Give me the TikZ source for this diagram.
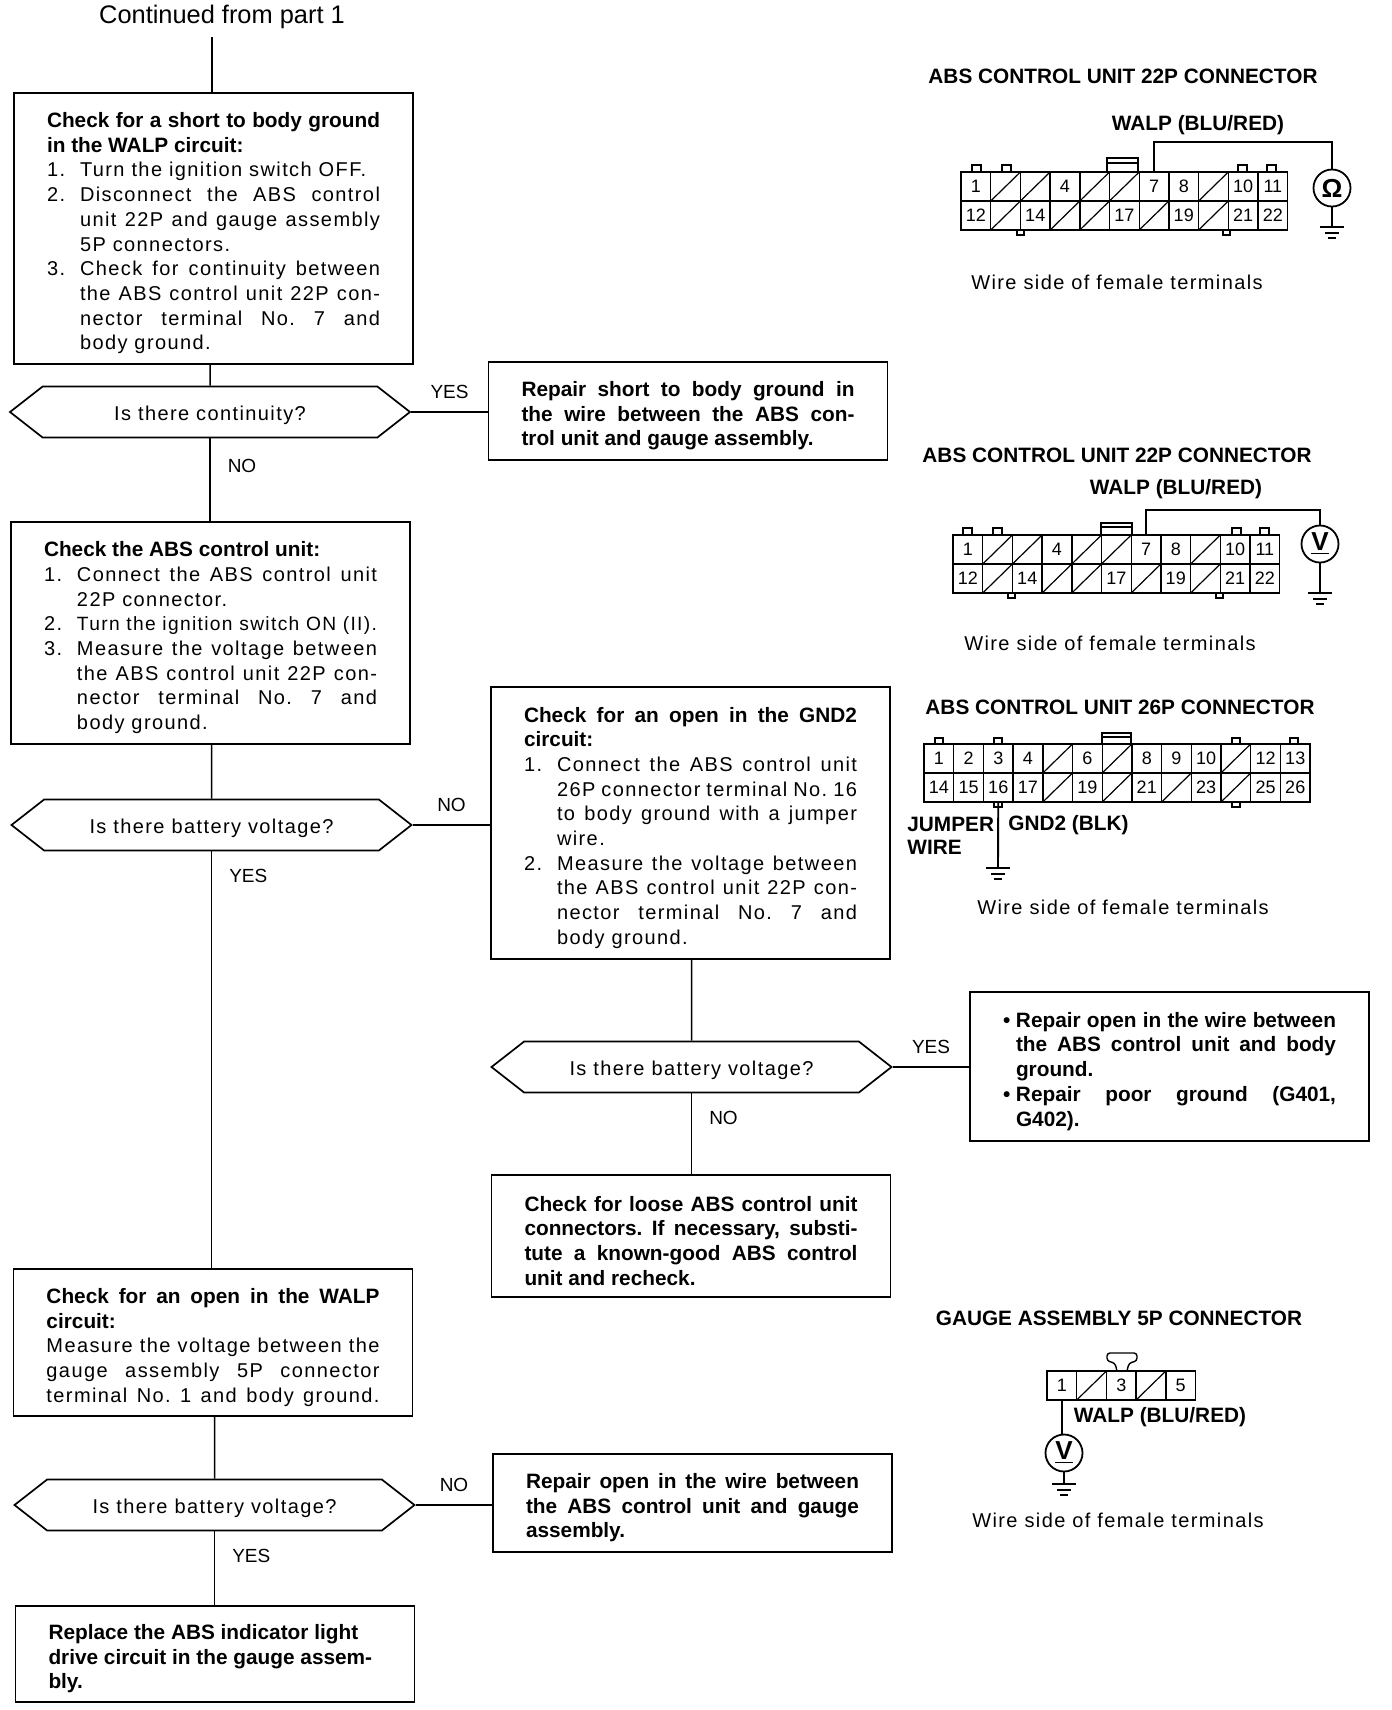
\documentclass[tikz,border=0pt]{standalone}
\usepackage{fontspec}
\setmainfont{Liberation Sans}[LetterSpace=7,BoldFeatures={LetterSpace=0}]
\newfontfamily\plainfont{Liberation Sans}
\usetikzlibrary{shapes.symbols}
\frenchspacing

\newcommand{\bodyfont}{\fontsize{10}{12.35}\selectfont}
\newcommand{\headfont}{\fontsize{10.4}{12.35}\selectfont\bfseries}
% justified line, and numbered line with hanging number
\newcommand{\fitline}[1]{\makebox[166.5pt][s]{#1}}
\newcommand{\fitstep}[3][16.5pt]{\makebox[#1][l]{#2}\makebox[\dimexpr166.5pt-#1][s]{#3}}
\newcommand{\stepline}[3][16.5pt]{\makebox[#1][l]{#2}#3}
% one row of connector cells: prefix, x, y, labelled cells, slashed cells
\newcommand{\pinrow}[5]{%
  \foreach \c/\t in {#4} \node[pincell] (#1\t) at ({#2+(\c+.5)*29.7},{#3+14.5}) {\t};
  \foreach \c in {#5} \node[pincell,slashed] (#1s\c) at ({#2+(\c+.5)*29.7},{#3+14.5}) {};
}
\newcommand{\groundbars}[1]{\draw[groundbar] (#1) +(-12,0) -- +(12,0) +(-7,6) -- +(7,6) +(-4,11) -- +(4,11);}

\tikzset{
  flowbox/.style={draw,line width=.85pt,text width=166.5pt,inner xsep=16.5pt,inner ysep=0pt,align=flush left,
    font=\bodyfont,execute at begin node={\rule{0pt}{12.3pt}}},
  repairbox/.style={flowbox,font=\headfont},
  hexbox/.style={draw,line width=.85pt,shape=signal,signal to=west and east,signal pointer angle=76,
    minimum width=200pt,minimum height=25.5pt,inner sep=0pt,text height=10.2pt,text depth=2pt,font=\bodyfont},
  flowline/.style={line width=.75pt},
  flowlabel/.style={inner sep=0pt,font=\plainfont\fontsize{9.5}{12}\selectfont},
  sidehead/.style={inner sep=0pt,font=\headfont},
  sidenote/.style={inner sep=0pt,font=\bodyfont},
  pincell/.style={draw,line width=.7pt,minimum width=14.85pt,minimum height=14.5pt,inner sep=0pt,font=\plainfont\fontsize{9}{10}\selectfont},
  slashed/.style={path picture={\draw[line width=.6pt] (path picture bounding box.south west) -- (path picture bounding box.north east);}},
  pintab/.style={draw,line width=.7pt},
  wire/.style={line width=.95pt},
  meter/.style={circle,draw,line width=.9pt,minimum size=18.5pt,inner sep=0pt,font=\plainfont\fontsize{13}{14}\selectfont\bfseries},
  groundbar/.style={line width=.9pt}
}

\begin{document}
\begin{tikzpicture}[x=0.5pt,y=-0.5pt]
\useasboundingbox (0,0) rectangle (1392,1710);

% flow chart
\node[inner sep=0pt,font=\plainfont\fontsize{12.7}{14}\selectfont] (cont) at (222,17) {Continued from part 1};
\coordinate (start) at (212,37);

\node[flowbox,minimum height=135.5pt] (shortbox) at (213.5,228.5) {%
\fitline{\headfont Check for a short to body ground}\\
{\headfont in the WALP circuit:}\\
\stepline{1.}{Turn the ignition switch OFF.}\\
\fitstep{2.}{Disconnect the ABS control}\\
\fitstep{}{unit 22P and gauge assembly}\\
\stepline{}{5P connectors.}\\
\fitstep{3.}{Check for continuity between}\\
\fitstep{}{the ABS control unit 22P con-}\\
\fitstep{}{nector terminal No. 7 and}\\
\stepline{}{body ground.}};

\node[hexbox] (contdia) at (210,412) {Is there continuity?};

\node[repairbox,minimum height=49pt] (shortfix) at (688,411) {%
\fitline{Repair short to body ground in}\\
\fitline{the wire between the ABS con-}\\
trol unit and gauge assembly.};

\node[flowbox,minimum height=111pt] (unitbox) at (210.5,633) {%
{\headfont Check the ABS control unit:}\\
\fitstep{1.}{Connect the ABS control unit}\\
\stepline{}{22P connector.}\\
\fitstep{2.}{\fontsize{9.6}{12.35}\selectfont Turn the ignition switch ON (II).}\\
\fitstep{3.}{Measure the voltage between}\\
\fitstep{}{the ABS control unit 22P con-}\\
\fitstep{}{nector terminal No. 7 and}\\
\stepline{}{body ground.}};

\node[hexbox] (voltdia) at (211.5,825) {Is there battery voltage?};

\node[flowbox,minimum height=136pt] (gndbox) at (690.5,823) {%
\fitline{\headfont Check for an open in the GND2}\\
{\headfont circuit:}\\
\fitstep{1.}{Connect the ABS control unit}\\
\fitstep{}{26P connector terminal No. 16}\\
\fitstep{}{to body ground with a jumper}\\
\stepline{}{wire.}\\
\fitstep{2.}{Measure the voltage between}\\
\fitstep{}{the ABS control unit 22P con-}\\
\fitstep{}{nector terminal No. 7 and}\\
\stepline{}{body ground.}};

\node[hexbox] (gnddia) at (691.5,1067) {Is there battery voltage?};

\node[repairbox,minimum height=74.5pt] (gndfix) at (1169.5,1066.5) {%
\fitstep[6.5pt]{•}{Repair open in the wire between}\\
\fitstep[6.5pt]{}{the ABS control unit and body}\\
\stepline[6.5pt]{}{ground.}\\
\fitstep[6.5pt]{•}{Repair poor ground (G401,}\\
\stepline[6.5pt]{}{G402).}};

\node[repairbox,minimum height=61pt] (loosebox) at (691,1236) {%
\fitline{Check for loose ABS control unit}\\
\fitline{connectors. If necessary, substi-}\\
\fitline{tute a known-good ABS control}\\
unit and recheck.};

\node[flowbox,minimum height=73.5pt] (walpbox) at (213,1342.5) {%
\fitline{\headfont Check for an open in the WALP}\\
{\headfont circuit:}\\
\fitline{Measure the voltage between the}\\
\fitline{gauge assembly 5P connector}\\
\fitline{terminal No. 1 and body ground.}};

\node[hexbox] (walpdia) at (214.5,1505) {Is there battery voltage?};

\node[repairbox,minimum height=49pt] (walpfix) at (692.5,1503) {%
\fitline{Repair open in the wire between}\\
\fitline{the ABS control unit and gauge}\\
assembly.};

\node[repairbox,minimum height=48pt] (gaugebox) at (215,1654) {%
Replace the ABS indicator light\\
drive circuit in the gauge assem-\\
bly.};

\draw[flowline] (start) -- (start |- shortbox.north);
\draw[flowline] (contdia) -- (contdia |- shortbox.south);
\draw[flowline] (contdia.east) -- node[flowlabel,above=6.5pt] (yesa) {YES} (contdia.east -| shortfix.west);
\draw[flowline] (contdia.south) -- node[flowlabel,pos=.33,right=8.5pt] (noa) {NO} (contdia.south |- unitbox.north);
\draw[flowline] (voltdia) -- (voltdia |- unitbox.south);
\draw[flowline] (voltdia.east) -- node[flowlabel,above=6.5pt] (nob) {NO} (voltdia.east -| gndbox.west);
\draw[flowline] (voltdia.south) -- node[flowlabel,pos=.06,right=8.5pt] (yesb) {YES} (voltdia.south |- walpbox.north);
\draw[flowline] (gnddia) -- (gnddia |- gndbox.south);
\draw[flowline] (gnddia.east) -- node[flowlabel,above=6.5pt] (yesc) {YES} (gnddia.east -| gndfix.west);
\draw[flowline] (gnddia.south) -- node[flowlabel,pos=.3,right=8.5pt] (noc) {NO} (gnddia.south |- loosebox.north);
\draw[flowline] (walpdia) -- (walpdia |- walpbox.south);
\draw[flowline] (walpdia.east) -- node[flowlabel,above=6.5pt] (nod) {NO} (walpdia.east -| walpfix.west);
\draw[flowline] (walpdia.south) -- node[flowlabel,pos=.33,right=8.5pt] (yesd) {YES} (walpdia.south |- gaugebox.north);

% first 22P connector
\node[sidehead] (heada) at (1123,76) {ABS CONTROL UNIT 22P CONNECTOR};
\node[sidehead] (walpa) at (1198,125) {WALP (BLU/RED)};
\foreach \x in {972,1002,1238,1267} \draw[pintab] (\x,172) rectangle ++(9,-7);
\foreach \x in {1017,1223} \draw[pintab] (\x,230) rectangle ++(7,5);
\draw[pintab] (1107,172) rectangle (1138,158) (1107,163) -- (1138,163);
\pinrow{ua}{961}{172}{0/1,3/4,6/7,7/8,9/10,10/11}{1,2,4,5,8}
\pinrow{la}{961}{201}{0/12,2/14,5/17,7/19,9/21,10/22}{1,3,4,6,8}
\node[meter] (ohm) at (1332,188) {Ω};
\coordinate (wirea) at (1332,142);
\coordinate (gnda) at (1332,227);
\draw[wire] (ua7.north) |- (wirea) -- (ohm.north);
\draw[wire] (ohm.south) -- (gnda);
\groundbars{gnda}
\node[sidenote] (wsa) at (1117,282) {Wire side of female terminals};

% second 22P connector
\node[sidehead] (headb) at (1117,455) {ABS CONTROL UNIT 22P CONNECTOR};
\node[sidehead] (walpb) at (1176,489) {WALP (BLU/RED)};
\foreach \x in {963,993,1232,1260} \draw[pintab] (\x,535) rectangle ++(9,-7);
\foreach \x in {1008,1216} \draw[pintab] (\x,593) rectangle ++(7,5);
\draw[pintab] (1101,535) rectangle (1132,523) (1101,527) -- (1132,527);
\pinrow{ub}{953}{535}{0/1,3/4,6/7,7/8,9/10,10/11}{1,2,4,5,8}
\pinrow{lb}{953}{564}{0/12,2/14,5/17,7/19,9/21,10/22}{1,3,4,6,8}
\node[meter] (volta) at (1320,544) {\underline{V}};
\coordinate (wireb) at (1320,510);
\coordinate (gndb) at (1320,593);
\draw[wire] (ub7.north) |- (wireb) -- (volta.north);
\draw[wire] (volta.south) -- (gndb);
\groundbars{gndb}
\node[sidenote] (wsb) at (1110,643) {Wire side of female terminals};

% 26P connector
\node[sidehead] (headc) at (1120,707) {ABS CONTROL UNIT 26P CONNECTOR};
\foreach \x in {935,994,1232,1290} \draw[pintab] (\x,744) rectangle ++(8,-6);
\foreach \x in {994,1232} \draw[pintab] (\x,802) rectangle ++(8,5);
\draw[pintab] (1102,744) rectangle (1131,733) (1102,737) -- (1131,737);
\pinrow{uc}{924}{744}{0/1,1/2,2/3,3/4,5/6,7/8,8/9,9/10,11/12,12/13}{4,6,10}
\pinrow{lc}{924}{773}{0/14,1/15,2/16,3/17,5/19,7/21,9/23,11/25,12/26}{4,6,8,10}
\coordinate (gndc) at (998,868);
\draw[wire] (lc16.south) -- (gndc);
\groundbars{gndc}
\node[sidehead,align=left,anchor=west,font=\fontsize{10.4}{11.6}\selectfont\bfseries] (jumper) at (907,836) {JUMPER\\WIRE};
\node[sidehead,anchor=west] (gndname) at (1008,825) {GND2 (BLK)};
\node[sidenote] (wsc) at (1123,907) {Wire side of female terminals};

% 5P connector
\node[sidehead] (headd) at (1119,1318) {GAUGE ASSEMBLY 5P CONNECTOR};
\draw[pintab,rounded corners=1.5pt] (1117,1371) -- (1115,1363) -- (1107,1361) -- (1107,1353) -- (1137,1353) -- (1137,1361) -- (1129,1363) -- (1127,1371);
\pinrow{ud}{1047}{1371}{0/1,2/3,4/5}{1,3}
\node[meter] (voltb) at (1064,1453) {\underline{V}};
\coordinate (gndd) at (1064,1484);
\draw[wire] (ud1.south) -- (ud1.south |- voltb.north);
\draw[wire] (voltb.south) -- (gndd);
\groundbars{gndd}
\node[sidehead] (walpd) at (1160,1417) {WALP (BLU/RED)};
\node[sidenote] (wsd) at (1118,1520) {Wire side of female terminals};
\end{tikzpicture}
\end{document}
